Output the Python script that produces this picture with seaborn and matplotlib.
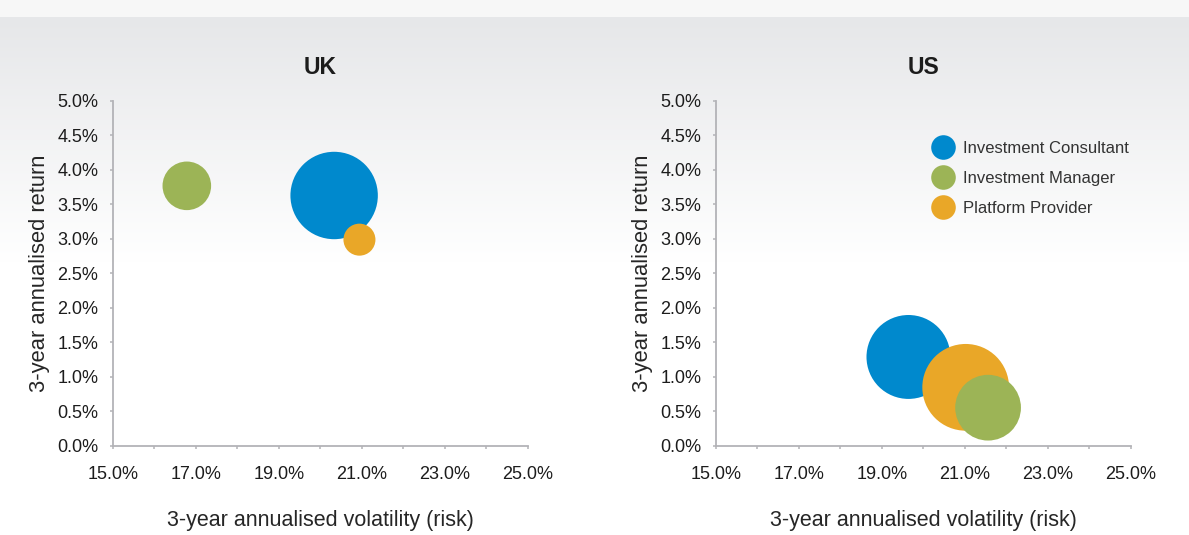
import numpy as np
import pandas as pd
import matplotlib
matplotlib.use("Agg")
import matplotlib.pyplot as plt
from matplotlib.ticker import FixedLocator, PercentFormatter
from matplotlib.lines import Line2D
import seaborn as sns

# Firm types, in drawing order (later ones sit on top)
firm_types = ["Investment Consultant", "Platform Provider", "Investment Manager"]
legend_order = ["Investment Consultant", "Investment Manager", "Platform Provider"]

# UK: 3-year annualised volatility (%), return (%), bubble size (relative assets)
uk_volatility = [20.33, 20.94, 16.78]
uk_return = [3.63, 2.99, 3.77]
uk_size = [19.1, 2.56, 5.9]

# US
us_volatility = [19.64, 21.02, 21.56]
us_return = [1.29, 0.85, 0.555]
us_size = [17.6, 18.8, 10.8]

x_ticks = [15, 17, 19, 21, 23, 25]
x_minor_ticks = [16, 18, 20, 22, 24]
y_ticks = [0, 0.5, 1.0, 1.5, 2.0, 2.5, 3.0, 3.5, 4.0, 4.5, 5.0]

palette = {
    "Investment Consultant": "#0089cd",
    "Investment Manager": "#9cb456",
    "Platform Provider": "#e9a728",
}

sns.set_style("white")
plt.rcParams["font.family"] = ["Liberation Sans", "DejaVu Sans"]
plt.rcParams["text.color"] = "#1c1c1c"

fig = plt.figure(figsize=(11.89, 5.35), dpi=100)

# Soft grey header band fading into white
H = 535
grad = np.ones((H, 1, 3))
rows = np.arange(H)
top = rows < 17
grad[top] = 0.972
fade = (rows >= 17) & (rows < 262)
t = (rows[fade] - 17) / (262 - 17)
base = np.array([230, 231, 233]) / 255.0
grad[fade, 0, :] = base[None, :] + (1 - base[None, :]) * t[:, None]
bg = fig.add_axes([0, 0, 1, 1], zorder=-10)
bg.imshow(grad, aspect="auto", extent=[0, 1, 0, 1], interpolation="bilinear")
bg.axis("off")

spine_col = "#b3b3b7"
area_per_unit = 207.4


def panel(rect, title, vol, ret, size):
    ax = fig.add_axes(rect)
    ax.set_facecolor("none")
    df = pd.DataFrame({"volatility": vol, "return": ret, "size": size, "firm": firm_types})
    sns.scatterplot(
        data=df, x="volatility", y="return", hue="firm", size="size",
        palette=palette, sizes=(0, 20 * area_per_unit), size_norm=(0, 20),
        linewidth=0, edgecolor="none", alpha=1, legend=False, ax=ax,
    )
    ax.set_xlim(15, 25)
    ax.set_ylim(0, 5)
    ax.xaxis.set_major_locator(FixedLocator(x_ticks))
    ax.xaxis.set_minor_locator(FixedLocator(x_minor_ticks))
    ax.yaxis.set_major_locator(FixedLocator(y_ticks))
    ax.xaxis.set_major_formatter(PercentFormatter(xmax=100, decimals=1))
    ax.yaxis.set_major_formatter(PercentFormatter(xmax=100, decimals=1))
    for s in ["top", "right"]:
        ax.spines[s].set_visible(False)
    for s in ["left", "bottom"]:
        ax.spines[s].set_color(spine_col)
        ax.spines[s].set_linewidth(1.3)
    ax.tick_params(axis="both", which="both", direction="out", length=2.5,
                   width=1.1, color=spine_col, labelcolor="#1c1c1c",
                   labelsize=13)
    ax.tick_params(axis="x", which="both", bottom=True, pad=12)
    ax.tick_params(axis="y", which="both", left=True, pad=8.0)
    ax.set_xlabel("3-year annualised volatility (risk)", fontsize=15.5, labelpad=19)
    ax.set_ylabel("3-year annualised return", fontsize=15.8, labelpad=5)
    ax.set_title(title, fontsize=16.5, fontweight="bold", pad=19.5)
    return ax


ax_uk = panel([0.0950, 0.1664, 0.3490, 0.6449], "UK", uk_volatility, uk_return, uk_size)
ax_us = panel([0.6022, 0.1664, 0.3488, 0.6449], "US", us_volatility, us_return, us_size)

handles = [
    Line2D([0], [0], marker="o", linestyle="none", markersize=17.7,
           markerfacecolor=palette[name], markeredgewidth=0)
    for name in legend_order
]
leg = ax_us.legend(
    handles, legend_order, loc="upper left", bbox_to_anchor=(0.5226, 0.885),
    frameon=False, fontsize=12, handlelength=1.2, handletextpad=0.6,
    labelspacing=0.92, borderpad=0, borderaxespad=0,
)
for txt in leg.get_texts():
    txt.set_color("#333333")

fig.savefig("out.png", dpi=100)
